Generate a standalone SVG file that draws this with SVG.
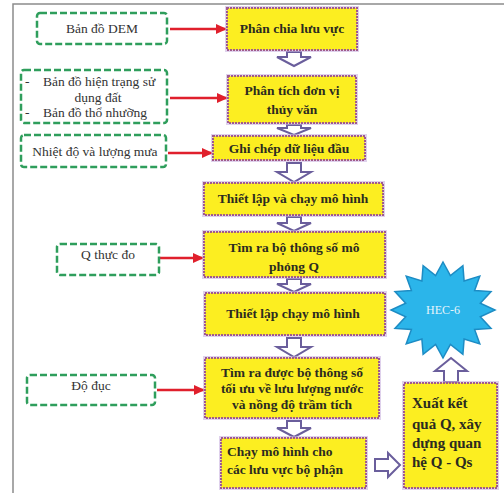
<svg xmlns="http://www.w3.org/2000/svg" width="504" height="493" viewBox="0 0 504 493">
<defs>
<marker id="red" markerWidth="11" markerHeight="10" refX="10" refY="5" orient="auto" markerUnits="userSpaceOnUse">
<path d="M0,0 L11,5 L0,10 Z" fill="#e0202c"/>
</marker>
<style>
.step{fill:#fcee21;stroke:#a05a8c;stroke-width:2;stroke-dasharray:2 1}
.glow{fill:none;stroke:#c9b3e0;stroke-width:4;opacity:0.6}
.src{fill:#ffffff;stroke:#2f9e5c;stroke-width:2.5;stroke-dasharray:7 3}
.t{font-family:"Liberation Serif","Times New Roman","DejaVu Serif",serif;font-weight:bold;font-size:13.5px;fill:#2b2b20;text-anchor:middle}
.tl{font-family:"Liberation Serif","Times New Roman","DejaVu Serif",serif;font-weight:bold;font-size:15px;fill:#2b2b20}
.s{font-family:"Liberation Serif","Times New Roman","DejaVu Serif",serif;font-size:13.5px;fill:#333333;text-anchor:middle}
.sl{font-family:"Liberation Serif","Times New Roman","DejaVu Serif",serif;font-size:13.5px;fill:#333333}
.red{stroke:#e0202c;stroke-width:2.5;fill:none;marker-end:url(#red)}
.blk{fill:#ffffff;stroke:#6a5e9c;stroke-width:2;stroke-linejoin:miter}
</style>
</defs>
<rect x="0" y="0" width="504" height="493" fill="#ffffff"/>
<path d="M13,493 L13,4 L504,4" fill="none" stroke="#8c8c8c" stroke-width="1.5"/>

<g id="connectors">
<path class="red" d="M170,29 L226,29"/>
<path class="red" d="M170,98 L227,98"/>
<path class="red" d="M168,153 L212,153"/>
<path class="red" d="M160,258 L203,258"/>
<path class="red" d="M157,390 L204,390"/>
<path class="blk" d="M287,52 L301,52 L301,57 L311,57 L294,66 L277,57 L287,57 Z"/>
<path class="blk" d="M287,125 L301,125 L301,128 L311,128 L294,135 L277,128 L287,128 Z"/>
<path class="blk" d="M287,163 L301,163 L301,172 L311,172 L294,182 L277,172 L287,172 Z"/>
<path class="blk" d="M287,217 L301,217 L301,223 L311,223 L294,231 L277,223 L287,223 Z"/>
<path class="blk" d="M287,279 L301,279 L301,284 L311,284 L294,292 L277,284 L287,284 Z"/>
<path class="blk" d="M287,338 L301,338 L301,347 L311,347 L294,357 L277,347 L287,347 Z"/>
<path class="blk" d="M287,421 L301,421 L301,428 L311,428 L294,437 L277,428 L287,428 Z"/>
<path class="blk" d="M375,459 L388,459 L388,453 L400,465 L388,477 L388,471 L375,471 Z"/>
<path class="blk" d="M444,382 L458,382 L458,371 L467,371 L451,358 L435,371 L444,371 Z"/>
</g>

<g id="src-dem">
<rect class="src" x="37" y="13" width="130" height="31" rx="3"/>
<text class="s" x="102" y="33">Bản đồ DEM</text>
</g>
<g id="src-maps">
<rect class="src" x="21" y="70" width="146" height="53" rx="3"/>
<text class="sl" x="25" y="86">-</text>
<text class="sl" x="43" y="86">Bản đồ hiện trạng sử</text>
<text class="s" x="98" y="102">dụng đất</text>
<text class="sl" x="25" y="117">-</text>
<text class="sl" x="43" y="117">Bản đồ thổ nhưỡng</text>
</g>
<g id="src-climate">
<rect class="src" x="21" y="135" width="145" height="32" rx="3"/>
<text class="s" x="95" y="156">Nhiệt độ và lượng mưa</text>
</g>
<g id="src-q">
<rect class="src" x="57" y="244" width="102" height="31" rx="3"/>
<text class="s" x="108" y="259">Q thực đo</text>
</g>
<g id="src-turbidity">
<rect class="src" x="27" y="375" width="128" height="30" rx="3"/>
<text class="s" x="91" y="390">Độ đục</text>
</g>

<g id="step1">
<rect class="glow" x="227" y="8" width="130" height="42"/>
<rect class="step" x="227" y="8" width="130" height="42"/>
<text class="t" x="292" y="33">Phân chia lưu vực</text>
</g>
<g id="step2">
<rect class="glow" x="228" y="76" width="128" height="47"/>
<rect class="step" x="228" y="76" width="128" height="47"/>
<text class="t" x="292" y="95">Phân tích đơn vị</text>
<text class="t" x="292" y="114">thủy văn</text>
</g>
<g id="step3">
<rect class="glow" x="213" y="136" width="152" height="24"/>
<rect class="step" x="213" y="136" width="152" height="24"/>
<text class="t" x="289" y="153">Ghi chép dữ liệu đầu</text>
</g>
<g id="step4">
<rect class="glow" x="204" y="183" width="179" height="32"/>
<rect class="step" x="204" y="183" width="179" height="32"/>
<text class="t" x="293" y="203">Thiết lập và chạy mô hình</text>
</g>
<g id="step5">
<rect class="glow" x="204" y="232" width="181" height="45"/>
<rect class="step" x="204" y="232" width="181" height="45"/>
<text class="t" x="294" y="252">Tìm ra bộ thông số mô</text>
<text class="t" x="294" y="271">phỏng Q</text>
</g>
<g id="step6">
<rect class="glow" x="205" y="293" width="180" height="42"/>
<rect class="step" x="205" y="293" width="180" height="42"/>
<text class="t" x="293" y="318">Thiết lập chạy mô hình</text>
</g>
<g id="step7">
<rect class="glow" x="205" y="358" width="174" height="60"/>
<rect class="step" x="205" y="358" width="174" height="60"/>
<text class="t" x="292" y="377">Tìm ra được bộ thông số</text>
<text class="t" x="292" y="393">tối ưu về lưu lượng nước</text>
<text class="t" x="292" y="409">và nồng độ trầm tích</text>
</g>
<g id="step8">
<rect class="glow" x="221" y="438" width="145" height="50"/>
<rect class="step" x="221" y="438" width="145" height="50"/>
<text class="t" x="227" y="456" style="text-anchor:start">Chạy mô hình cho</text>
<text class="t" x="227" y="474" style="text-anchor:start">các lưu vực bộ phận</text>
</g>
<g id="step9">
<rect class="glow" x="404" y="383" width="93" height="105"/>
<rect class="step" x="404" y="383" width="93" height="105"/>
<text class="tl" x="412" y="408">Xuất kết</text>
<text class="tl" x="412" y="429">quả Q, xây</text>
<text class="tl" x="412" y="448">dựng quan</text>
<text class="tl" x="412" y="467">hệ Q - Qs</text>
</g>
<g id="hec6">
<polygon points="443,262 450.4,275.7 462.9,265.7 464.1,280.9 479.8,276.1 474.6,290.6 491,291.6 480.3,303.2 495,310 480.3,316.8 491,328.4 474.6,329.4 479.8,343.9 464.1,339.1 462.9,354.3 450.4,344.3 443,358 435.6,344.3 423.1,354.3 421.9,339.1 406.2,343.9 411.4,329.4 395,328.4 405.7,316.8 391,310 405.7,303.2 395,291.6 411.4,290.6 406.2,276.1 421.9,280.9 423.1,265.7 435.6,275.7" fill="#2bb5ea" stroke="#1d8cc4" stroke-width="1.5"/>
<text x="443" y="314" style="font-family:'Liberation Serif','Times New Roman',serif;font-size:12px;fill:#e6f4fb;text-anchor:middle">HEC-6</text>
</g>
</svg>
